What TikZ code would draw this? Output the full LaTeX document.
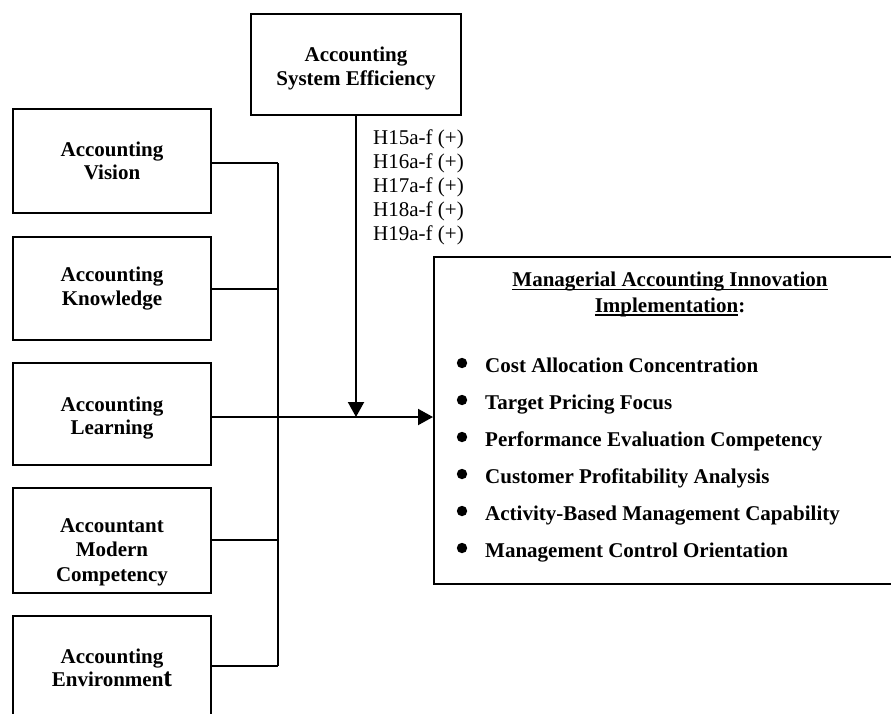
\documentclass[tikz,border=0pt]{standalone}
\usepackage{fontspec}
\setmainfont{Liberation Serif}
\usetikzlibrary{arrows.meta,calc}
% underline that runs through the descenders, as in a word processor
\newcommand\ulbar[1]{\setbox0\hbox{#1}\rlap{\rule[-3.5pt]{\wd0}{1.4pt}}\box0}
\begin{document}
\begin{tikzpicture}[x=1pt,y=-1pt,
  every node/.style={inner sep=0pt},
  boxfont/.style={font=\fontsize{21}{23.5}\selectfont\bfseries},
  box/.style={draw, line width=2pt, minimum width=198pt, minimum height=103pt,
              align=center, boxfont},
  boxtext/.style={align=center, boxfont},
  link/.style={line width=2pt},
  arr/.style={line width=2pt, -{Triangle[length=15pt,width=16pt]}},
  item/.style={font=\fontsize{21}{24}\selectfont\bfseries, anchor=base west},
  ]
\useasboundingbox (0,0) rectangle (891,713);
\clip (0,0) rectangle (891,713);

% moderator on top
\node[box, minimum width=210pt, minimum height=101pt] (ase) at (356,64.5) {};
\node[boxtext] (asetxt) at (356,68.5) {Accounting\\System Efficiency};

% antecedent boxes on the left
\node[box, minimum height=104pt] (vis)   at (112,161)   {Accounting\\Vision};
\node[box] (know)  at (112,288.5) {Accounting\\Knowledge};
\node[box, minimum height=102pt] (learn) at (112,414)   {};
\node[boxtext] (learntxt) at (112,418) {Accounting\\Learning};
\node[box, minimum height=105pt] (comp)  at (112,540.5) {};
\node[boxtext, font=\fontsize{21}{24.5}\selectfont\bfseries] (comptxt)
  at (112,552) {Accountant\\Modern\\Competency};
\node[box, minimum height=104pt] (env)   at (112,668)
  {Accounting\\Environmen{\fontsize{26}{26}\selectfont t}};

% outcome box
\node[draw, line width=2pt, minimum width=472pt, minimum height=327pt] (maii)
  at (670,420.5) {};
\node[align=center, anchor=north, font=\fontsize{21}{25.5}\selectfont\bfseries]
  (ttl) at (670,272)
  {\ulbar{Managerial Accounting Innovation}\\\ulbar{Implementation}:};
\foreach \t [count=\i] in {Cost Allocation Concentration,
    Target Pricing Focus,
    Performance Evaluation Competency,
    Customer Profitability Analysis,
    Activity-Based Management Capability,
    Management Control Orientation}{
  \node[item] (it\i) at (485,{372+37*(\i-1)}) {\t};
  \fill ($(it\i.base west)+(-23,-9)$) circle[radius=5.2pt];
}

% hypotheses
\node[anchor=north west, align=left, font=\fontsize{21}{24}\selectfont] (hyp)
  at (373,130) {H15a-f (+)\\H16a-f (+)\\H17a-f (+)\\H18a-f (+)\\H19a-f (+)};

% collecting bar
\coordinate (j1) at (278,163);
\coordinate (j2) at (278,289);
\coordinate (j3) at (278,417);
\coordinate (j4) at (278,540);
\coordinate (j5) at (278,666);
\draw[link] (j1) -- (j5);
\draw[link] (vis.east |- j1) -- (j1);
\draw[link] (know.east |- j2) -- (j2);
\draw[link] (comp.east |- j4) -- (j4);
\draw[link] (env.east |- j5) -- (j5);
\draw[arr] (learn.east |- j3) -- (j3 -| maii.west);
\draw[arr] (ase.south) -- (ase.south |- j3);
\end{tikzpicture}
\end{document}
